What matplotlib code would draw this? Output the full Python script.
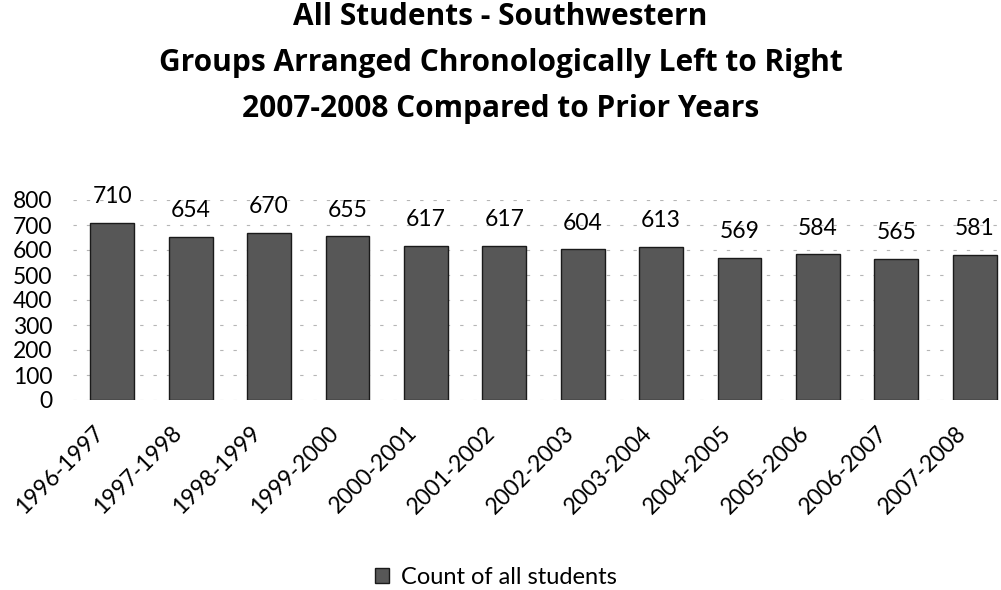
import matplotlib
matplotlib.use("Agg")
import matplotlib.pyplot as plt
import matplotlib.transforms as mtransforms
from matplotlib.patches import Rectangle

years = ["1996-1997", "1997-1998", "1998-1999", "1999-2000", "2000-2001", "2001-2002",
         "2002-2003", "2003-2004", "2004-2005", "2005-2006", "2006-2007", "2007-2008"]
counts = [710, 654, 670, 655, 617, 617, 604, 613, 569, 584, 565, 581]
yticks = [0, 100, 200, 300, 400, 500, 600, 700, 800]
title_lines = ["All Students - Southwestern",
               "Groups Arranged Chronologically Left to Right",
               "2007-2008 Compared to Prior Years"]
legend_label = "Count of all students"

plt.rcParams['font.family'] = ['Lato', 'DejaVu Sans']

fig = plt.figure(figsize=(10.01, 5.90), dpi=100)
fig.patch.set_facecolor("white")

# plot area spans slightly past the right edge of the figure
left, right = 73 / 1001, 1014 / 1001
bottom, top = 1 - 400 / 590, 1 - 200 / 590
ax = fig.add_axes([left, bottom, right - left, top - bottom])
ax.set_facecolor("white")

x = list(range(len(years)))
ax.bar(x, counts, width=0.56, color="#575757", edgecolor="#1a1a1a", linewidth=1.0, zorder=3)

ax.set_xlim(-0.5, len(years) - 0.5)
ax.set_ylim(0, 800)
ax.set_yticks(yticks)
ax.set_yticklabels([str(v) for v in yticks], fontsize=16.5)
ax.yaxis.grid(True, color="#b5b5b5", linestyle=(0, (3, 9)), linewidth=0.8, zorder=0)
ax.tick_params(axis="y", length=0, pad=15)
ax.tick_params(axis="x", length=0, pad=14)
for s in ax.spines.values():
    s.set_visible(False)

ax.set_xticks(x)
ax.set_xticklabels(years, rotation=45, ha="right", va="center", rotation_mode="anchor",
                   fontsize=16.5)
# nudge the slanted year labels down and to the left of their bars
shift = mtransforms.ScaledTranslation(-12 / 100, -10 / 100, fig.dpi_scale_trans)
for lbl in ax.get_xticklabels():
    lbl.set_transform(lbl.get_transform() + shift)

for xi, v in zip(x, counts):
    ax.annotate(str(v), (xi, v), xytext=(0, 11), textcoords="offset points",
                ha="center", va="bottom", fontsize=16.5)

for i, y_px in enumerate([17, 63, 109]):
    fig.text(0.5, 1 - y_px / 590, title_lines[i], ha="center", va="center",
             fontsize=21.5, fontweight="bold", family=["Open Sans", "DejaVu Sans"])

handle = Rectangle((0, 0), 1, 1, facecolor="#575757", edgecolor="#1a1a1a")
fig.legend([handle], [legend_label], loc="center", bbox_to_anchor=(0.495, 1 - 577 / 590),
           frameon=False, fontsize=17, handlelength=0.6, handleheight=0.6, handletextpad=0.5,
           borderpad=0.1)

fig.savefig("out.png", dpi=100, facecolor="white")
